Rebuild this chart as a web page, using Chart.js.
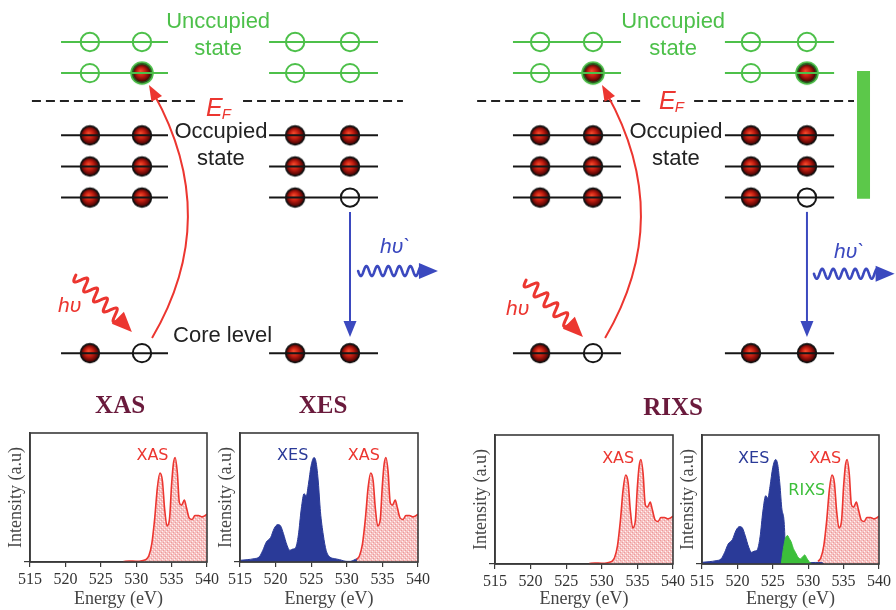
<!DOCTYPE html>
<html>
<head>
<meta charset="utf-8">
<title>XAS, XES and RIXS</title>
<script src="https://cdn.jsdelivr.net/npm/chart.js@4.4.0/dist/chart.umd.min.js"></script>
<style>
  html, body { margin: 0; padding: 0; background: #ffffff; }
  #stage { position: relative; width: 896px; height: 610px; overflow: hidden; background: #ffffff; }
  #stage canvas { position: absolute; }
</style>
</head>
<body>
<div id="stage">
  <canvas id="scheme"></canvas>
  <canvas id="pXas"></canvas>
  <canvas id="pXes"></canvas>
  <canvas id="pRixsIn"></canvas>
  <canvas id="pRixsOut"></canvas>
</div>
<script>
// ---------------- spectra (energy in eV, intensity in arbitrary units) ----------------
const energyTicks = [515, 520, 525, 530, 535, 540];

const xasEnergy = [528.2, 529.0, 530.0, 530.8, 531.4, 531.8, 532.2, 532.6, 533.0, 533.35, 533.7, 534.0,
  534.35, 534.7, 535.0, 535.25, 535.5, 535.8, 536.1, 536.4, 536.8, 537.1, 537.5, 537.9, 538.3, 538.8, 539.3, 540.0];
const xasIntensity = [0.004, 0.008, 0.006, 0.01, 0.02, 0.05, 0.14, 0.33, 0.58, 0.69, 0.63, 0.42,
  0.28, 0.33, 0.60, 0.76, 0.81, 0.70, 0.46, 0.44, 0.48, 0.42, 0.34, 0.33, 0.36, 0.36, 0.35, 0.37];

const xesEnergy = [515.0, 516.0, 517.0, 517.7, 518.2, 518.7, 519.3, 519.8, 520.3, 520.7, 521.1, 521.6,
  522.0, 522.4, 522.8, 523.2, 523.6, 524.0, 524.3, 524.6, 525.0, 525.4, 525.7, 526.0, 526.3, 526.7,
  527.1, 527.6, 528.3, 529.0, 530.0, 530.5, 531.0, 531.5, 532.0];
const xesIntensity = [0.013, 0.018, 0.026, 0.04, 0.09, 0.155, 0.19, 0.26, 0.29, 0.28, 0.22, 0.13,
  0.09, 0.10, 0.11, 0.21, 0.41, 0.53, 0.51, 0.60, 0.75, 0.81, 0.77, 0.62, 0.39, 0.21,
  0.09, 0.04, 0.026, 0.018, 0.005, 0.005, 0.015, 0.026, 0.0];

// emission recorded at resonance: elastic/XES part cut above 526.7 eV
const xesResEnergy = [515.0, 516.0, 517.0, 517.7, 518.2, 518.7, 519.3, 519.8, 520.3, 520.7, 521.1, 521.6,
  522.0, 522.4, 522.8, 523.2, 523.6, 524.0, 524.3, 524.6, 525.0, 525.4, 525.7, 526.0, 526.3, 526.7,
  526.75, 528.0, 530.0, 531.0, 532.0, 532.2];
const xesResIntensity = [0.013, 0.018, 0.026, 0.04, 0.09, 0.155, 0.19, 0.26, 0.29, 0.28, 0.22, 0.13,
  0.09, 0.10, 0.11, 0.21, 0.41, 0.53, 0.51, 0.60, 0.75, 0.81, 0.77, 0.62, 0.42, 0.22,
  0.01, 0.01, 0.01, 0.012, 0.01, 0.0];

const rixsEnergy = [526.2, 526.5, 526.8, 527.1, 527.3, 527.6, 527.9, 528.2, 528.6, 528.9, 529.2, 529.5, 529.8, 530.1, 530.5];
const rixsIntensity = [0.0, 0.12, 0.20, 0.22, 0.20, 0.17, 0.12, 0.09, 0.05, 0.04, 0.055, 0.07, 0.045, 0.02, 0.0];

// ---------------- level scheme (horizontal layout units, energy-level units) ----------------
const levelOrder = [10, 9, 7, 6, 5, 0];      // two empty bands, three filled bands, core level
const unoccupiedLevels = [10, 9];
const fermiLevel = 8.1;
const schemeNames = ['XAS', 'XES', 'RIXS excitation', 'RIXS emission'];
const levelSpans = [[2.18, 6.0], [9.61, 13.5], [18.32, 22.18], [25.89, 29.79]];
const siteX = [[3.21, 5.07], [10.54, 12.5], [19.29, 21.18], [26.82, 28.82]];
// occupation of the two sites of each level in levelOrder: 1 = electron, 0 = empty
const occupation = [
  ['00', '01', '11', '11', '11', '10'],
  ['00', '00', '11', '11', '10', '11'],
  ['00', '01', '11', '11', '11', '10'],
  ['00', '01', '11', '11', '10', '11']
];
const fermiSegments = [[1.14, 7.04], [8.68, 14.39], [17.04, 22.96], [24.79, 30.5]];
const excitationArrows = [
  { from: [5.43, 0.49], bend: [7.96, 4.35], to: [5.32, 8.62] },
  { from: [21.61, 0.49], bend: [24.14, 4.35], to: [21.5, 8.62] }
];
const decayArrows = [{ x: 12.5, from: 4.54, to: 0.52 }, { x: 28.82, from: 4.54, to: 0.52 }];
const incomingPhotons = [{ from: [2.71, 2.51], to: [4.71, 0.68] }, { from: [18.79, 2.35], to: [20.82, 0.52] }];
const outgoingPhotons = [{ from: [12.79, 2.64], to: [15.64, 2.64] }, { from: [29.07, 2.55], to: [31.95, 2.55] }];
const windowBar = { x: 30.84, top: 9.07, bottom: 4.96 };

// ---------------- colours ----------------
const GREEN = '#4dc04a';
const INK = '#161616';
const RED = '#ec3630';
const BLUE = '#3b49bf';
const XES_BLUE = '#2a3a98';
const RIXS_GREEN = '#3cbf3a';
const MAROON = '#6a1a3c';
const AXIS = '#3a3a3a';

function sizeCanvas(id, left, top, w, h) {
  const c = document.getElementById(id);
  c.width = w; c.height = h;
  c.style.left = left + 'px'; c.style.top = top + 'px';
  c.style.width = w + 'px'; c.style.height = h + 'px';
  return c;
}

// electron: dark-red shaded ball, optional coloured halo
function makeBall(halo) {
  const c = document.createElement('canvas');
  c.width = 26; c.height = 26;
  const g = c.getContext('2d');
  const cx = 13, cy = 13, r = 9.4;
  if (halo) {
    g.beginPath(); g.arc(cx, cy, r + 2.4, 0, Math.PI * 2);
    g.fillStyle = halo; g.fill();
  }
  const grad = g.createRadialGradient(cx - 1.5, cy - 2, 0.5, cx, cy, r);
  grad.addColorStop(0, '#f24a2c');
  grad.addColorStop(0.45, '#c21c10');
  grad.addColorStop(0.85, '#5c0806');
  grad.addColorStop(1, '#250000');
  g.beginPath(); g.arc(cx, cy, r, 0, Math.PI * 2);
  g.fillStyle = grad; g.fill();
  g.lineWidth = 1.6; g.strokeStyle = halo ? '#2a5a20' : '#111'; g.stroke();
  return c;
}

// speckled pink fill under the absorption spectrum
function makeSpeckle() {
  const c = document.createElement('canvas');
  c.width = 4; c.height = 4;
  const g = c.getContext('2d');
  g.fillStyle = '#f6c2c2'; g.fillRect(0, 0, 4, 4);
  g.fillStyle = '#fff4f4'; g.fillRect(0, 0, 1, 1); g.fillRect(2, 2, 1, 1);
  g.fillStyle = '#ee9a9a'; g.fillRect(1, 3, 1, 1); g.fillRect(3, 1, 1, 1);
  return g.createPattern(c, 'repeat');
}

const pts = (xs, ys) => xs.map((x, i) => ({ x, y: ys[i] }));

// ================= level scheme =================
const schemeDatasets = [];
levelSpans.forEach((span) => {
  levelOrder.forEach((lv) => {
    const up = unoccupiedLevels.includes(lv);
    schemeDatasets.push({
      data: [{ x: span[0], y: lv }, { x: span[1], y: lv }],
      showLine: true, borderColor: up ? GREEN : INK, borderWidth: 2, pointRadius: 0
    });
  });
});
fermiSegments.forEach((seg) => {
  schemeDatasets.push({
    data: [{ x: seg[0], y: fermiLevel }, { x: seg[1], y: fermiLevel }],
    showLine: true, borderColor: '#222', borderWidth: 2, borderDash: [9, 5], pointRadius: 0
  });
});
schemeDatasets.push({
  data: [{ x: windowBar.x, y: windowBar.top }, { x: windowBar.x, y: windowBar.bottom }],
  showLine: true, borderColor: '#5cc84a', borderWidth: 13, borderCapStyle: 'butt', pointRadius: 0
});

const sites = { emptyUp: [], emptyDown: [], fullUp: [], fullDown: [] };
siteX.forEach((xs, g) => {
  levelOrder.forEach((lv, k) => {
    const up = unoccupiedLevels.includes(lv);
    xs.forEach((x, s) => {
      const full = occupation[g][k][s] === '1';
      const key = (full ? 'full' : 'empty') + (up ? 'Up' : 'Down');
      sites[key].push({ x, y: lv });
    });
  });
});
schemeDatasets.push({ data: sites.emptyUp, pointStyle: 'circle', pointRadius: 9.2, pointBackgroundColor: '#fff', pointBorderColor: GREEN, pointBorderWidth: 2 });
schemeDatasets.push({ data: sites.emptyDown, pointStyle: 'circle', pointRadius: 9.2, pointBackgroundColor: '#fff', pointBorderColor: INK, pointBorderWidth: 2 });
schemeDatasets.push({ data: sites.fullUp, pointStyle: makeBall(GREEN), pointRadius: 10 });
schemeDatasets.push({ data: sites.fullDown, pointStyle: makeBall(null), pointRadius: 10 });

const SANS = '"Liberation Sans", Arial, sans-serif';
const SERIF = '"Liberation Serif", "Times New Roman", serif';
const schemeText = [
  { text: 'Unccupied', x: 7.79, y: 10.45, color: GREEN, font: '22px ' + SANS, align: 'center' },
  { text: 'state', x: 7.79, y: 9.58, color: GREEN, font: '22px ' + SANS, align: 'center' },
  { text: 'Unccupied', x: 24.04, y: 10.45, color: GREEN, font: '22px ' + SANS, align: 'center' },
  { text: 'state', x: 24.04, y: 9.58, color: GREEN, font: '22px ' + SANS, align: 'center' },
  { text: 'Occupied', x: 7.89, y: 6.92, color: '#222', font: '22px ' + SANS, align: 'center' },
  { text: 'state', x: 7.89, y: 6.05, color: '#222', font: '22px ' + SANS, align: 'center' },
  { text: 'Occupied', x: 24.14, y: 6.92, color: '#222', font: '22px ' + SANS, align: 'center' },
  { text: 'state', x: 24.14, y: 6.05, color: '#222', font: '22px ' + SANS, align: 'center' },
  { text: 'Core level', x: 6.18, y: 0.36, color: '#222', font: '22px ' + SANS, align: 'left' },
  { text: 'E', sub: 'F', x: 7.36, y: 7.62, color: RED, font: 'italic 25px ' + SANS, subFont: 'italic 15px ' + SANS, align: 'left' },
  { text: 'E', sub: 'F', x: 23.54, y: 7.85, color: RED, font: 'italic 25px ' + SANS, subFont: 'italic 15px ' + SANS, align: 'left' },
  { text: 'h\u03c5', x: 2.07, y: 1.32, color: RED, font: 'italic 21px ' + SANS, align: 'left' },
  { text: 'h\u03c5', x: 18.07, y: 1.23, color: RED, font: 'italic 21px ' + SANS, align: 'left' },
  { text: 'h\u03c5`', x: 13.57, y: 3.22, color: BLUE, font: 'italic 21px ' + SANS, align: 'left' },
  { text: 'h\u03c5`', x: 29.79, y: 3.06, color: BLUE, font: 'italic 21px ' + SANS, align: 'left' },
  { text: 'XAS', x: 4.29, y: -1.92, color: MAROON, font: 'bold 25px ' + SERIF, align: 'center' },
  { text: 'XES', x: 11.54, y: -1.92, color: MAROON, font: 'bold 25px ' + SERIF, align: 'center' },
  { text: 'RIXS', x: 24.04, y: -1.98, color: MAROON, font: 'bold 25px ' + SERIF, align: 'center' }
];

function arrowHead(ctx, tip, u, len, wid, color) {
  const n = [-u[1], u[0]];
  ctx.beginPath();
  ctx.moveTo(tip[0], tip[1]);
  ctx.lineTo(tip[0] - u[0] * len + n[0] * wid / 2, tip[1] - u[1] * len + n[1] * wid / 2);
  ctx.lineTo(tip[0] - u[0] * len - n[0] * wid / 2, tip[1] - u[1] * len - n[1] * wid / 2);
  ctx.closePath();
  ctx.fillStyle = color;
  ctx.fill();
}

function wavyArrow(ctx, a, b, color, amp, wl, lw, headLen, headW) {
  const dx = b[0] - a[0], dy = b[1] - a[1];
  const L = Math.hypot(dx, dy);
  const u = [dx / L, dy / L], n = [-u[1], u[0]];
  const run = L - headLen * 0.85;
  ctx.beginPath();
  for (let s = 0; s <= run; s += 0.5) {
    const w = amp * Math.sin(2 * Math.PI * s / wl);
    const x = a[0] + u[0] * s + n[0] * w, y = a[1] + u[1] * s + n[1] * w;
    if (s === 0) ctx.moveTo(x, y); else ctx.lineTo(x, y);
  }
  ctx.lineWidth = lw; ctx.strokeStyle = color; ctx.lineCap = 'round'; ctx.lineJoin = 'round';
  ctx.stroke();
  arrowHead(ctx, b, u, headLen, headW, color);
}

const schemeOverlay = {
  id: 'schemeOverlay',
  afterDatasetsDraw(chart) {
    const ctx = chart.ctx, sx = chart.scales.x, sy = chart.scales.y;
    const P = (p) => [sx.getPixelForValue(p[0]), sy.getPixelForValue(p[1])];
    ctx.save();
    // excitation: core electron promoted above the Fermi level
    excitationArrows.forEach((a) => {
      const s = P(a.from), c = P(a.bend), e = P(a.to);
      const dx = e[0] - c[0], dy = e[1] - c[1], L = Math.hypot(dx, dy);
      const u = [dx / L, dy / L];
      ctx.beginPath();
      ctx.moveTo(s[0], s[1]);
      ctx.quadraticCurveTo(c[0], c[1], e[0] - u[0] * 10, e[1] - u[1] * 10);
      ctx.lineWidth = 2; ctx.strokeStyle = RED; ctx.stroke();
      arrowHead(ctx, e, u, 16, 12, RED);
    });
    // decay: valence electron fills the core hole
    decayArrows.forEach((a) => {
      const s = P([a.x, a.from]), e = P([a.x, a.to]);
      ctx.beginPath();
      ctx.moveTo(s[0], s[1]);
      ctx.lineTo(e[0], e[1] - 10);
      ctx.lineWidth = 2; ctx.strokeStyle = BLUE; ctx.stroke();
      arrowHead(ctx, e, [0, 1], 16, 13, BLUE);
    });
    incomingPhotons.forEach((p) => wavyArrow(ctx, P(p.from), P(p.to), RED, 6, 14, 3, 20, 17));
    outgoingPhotons.forEach((p) => wavyArrow(ctx, P(p.from), P(p.to), BLUE, 5, 11, 2.6, 19, 16));
    // labels
    schemeText.forEach((t) => {
      const [x, y] = P([t.x, t.y]);
      ctx.font = t.font; ctx.fillStyle = t.color;
      ctx.textAlign = t.align; ctx.textBaseline = 'alphabetic';
      ctx.fillText(t.text, x, y);
      if (t.sub) {
        const w = ctx.measureText(t.text).width;
        ctx.font = t.subFont; ctx.textAlign = 'left';
        ctx.fillText(t.sub, x + w - 1, y + 3);
      }
    });
    ctx.restore();
  }
};

new Chart(sizeCanvas('scheme', 0, 0, 896, 430), {
  type: 'scatter',
  data: { datasets: schemeDatasets },
  options: {
    responsive: false, animation: false, events: [],
    layout: { padding: 0, autoPadding: false },
    plugins: { legend: { display: false }, tooltip: { enabled: false } },
    scales: {
      x: { type: 'linear', min: 0, max: 32, display: false },
      y: { type: 'linear', min: -2.47, max: 11.35, display: false }
    }
  },
  plugins: [schemeOverlay]
});

// ================= spectra panels =================
const speckle = makeSpeckle();

const frame = {
  id: 'frame',
  afterDraw(chart) {
    const { ctx, chartArea: a } = chart;
    ctx.save();
    ctx.strokeStyle = AXIS; ctx.lineWidth = 1.6;
    ctx.strokeRect(a.left, a.top, a.right - a.left, a.bottom - a.top);
    const tags = chart.options.plugins.frame.tags || [];
    const sx = chart.scales.x, sy = chart.scales.y;
    ctx.font = '16px "DejaVu Sans", sans-serif';
    ctx.textAlign = 'center'; ctx.textBaseline = 'alphabetic';
    tags.forEach((t) => {
      ctx.fillStyle = t.color;
      ctx.fillText(t.text, sx.getPixelForValue(t.x), sy.getPixelForValue(t.y));
    });
    ctx.restore();
  }
};

function xasSet(fromEnergy) {
  const keep = xasEnergy.map((e, i) => i).filter((i) => xasEnergy[i] >= fromEnergy);
  return {
    data: keep.map((i) => ({ x: xasEnergy[i], y: xasIntensity[i] })),
    borderColor: RED, borderWidth: 1.6, backgroundColor: speckle, fill: 'origin',
    pointRadius: 0, cubicInterpolationMode: 'monotone'
  };
}
function filledSet(xs, ys, color) {
  return {
    data: pts(xs, ys), borderColor: color, borderWidth: 1, backgroundColor: color,
    fill: 'origin', pointRadius: 0, cubicInterpolationMode: 'monotone'
  };
}

function panel(id, geo, datasets, tags) {
  const canvas = sizeCanvas(id, geo.left, geo.top, geo.w, geo.h);
  return new Chart(canvas, {
    type: 'line',
    data: { datasets },
    options: {
      responsive: false, animation: false, events: [],
      layout: { padding: { top: 8, right: geo.padRight, left: 0, bottom: 0 }, autoPadding: false },
      plugins: { legend: { display: false }, tooltip: { enabled: false }, frame: { tags } },
      scales: {
        x: {
          type: 'linear', min: 515, max: 540,
          afterBuildTicks: (s) => { s.ticks = energyTicks.map((v) => ({ value: v })); },
          ticks: { font: { family: 'Liberation Serif', size: 16 }, color: '#333', padding: 3, maxRotation: 0, autoSkip: false },
          grid: { drawOnChartArea: false, drawTicks: true, tickLength: 5, color: AXIS, lineWidth: 1.2 },
          border: { display: true, color: AXIS, width: 1.6 },
          title: { display: true, text: 'Energy (eV)', font: { family: 'Liberation Serif', size: 18 }, color: '#444', padding: { top: 0, bottom: 0 } },
          afterFit: (s) => { s.height = geo.xh; s.paddingLeft = 0; s.paddingRight = 0; }
        },
        y: {
          type: 'linear', min: 0, max: 1,
          afterBuildTicks: (s) => { s.ticks = [{ value: 0 }]; },
          ticks: { display: false },
          grid: { drawOnChartArea: false, drawTicks: true, tickLength: 6, color: AXIS, lineWidth: 1.2 },
          border: { display: true, color: AXIS, width: 1.6 },
          title: { display: true, text: 'Intensity (a.u)', font: { family: 'Liberation Serif', size: 18 }, color: '#444', padding: { top: 5, bottom: 0 } },
          afterFit: (s) => { s.width = 30; s.paddingTop = 0; s.paddingBottom = 0; }
        }
      }
    },
    plugins: [frame]
  });
}

panel('pXas', { left: 0, top: 425, w: 221, h: 185, padRight: 14, xh: 48 },
  [xasSet(0)],
  [{ text: 'XAS', x: 532.3, y: 0.79, color: RED }]);

panel('pXes', { left: 210, top: 425, w: 222, h: 185, padRight: 14, xh: 48 },
  [xasSet(531.4), filledSet(xesEnergy, xesIntensity, XES_BLUE)],
  [{ text: 'XES', x: 522.4, y: 0.79, color: XES_BLUE }, { text: 'XAS', x: 532.4, y: 0.79, color: RED }]);

panel('pRixsIn', { left: 465, top: 427, w: 222, h: 183, padRight: 14, xh: 46 },
  [xasSet(0)],
  [{ text: 'XAS', x: 532.3, y: 0.78, color: RED }]);

panel('pRixsOut', { left: 672, top: 427, w: 224, h: 183, padRight: 17, xh: 46 },
  [filledSet(rixsEnergy, rixsIntensity, RIXS_GREEN), filledSet(xesResEnergy, xesResIntensity, XES_BLUE), xasSet(531.4)],
  [{ text: 'XES', x: 522.3, y: 0.78, color: XES_BLUE }, { text: 'XAS', x: 532.4, y: 0.78, color: RED },
   { text: 'RIXS', x: 529.8, y: 0.535, color: RIXS_GREEN }]);
</script>
</body>
</html>
